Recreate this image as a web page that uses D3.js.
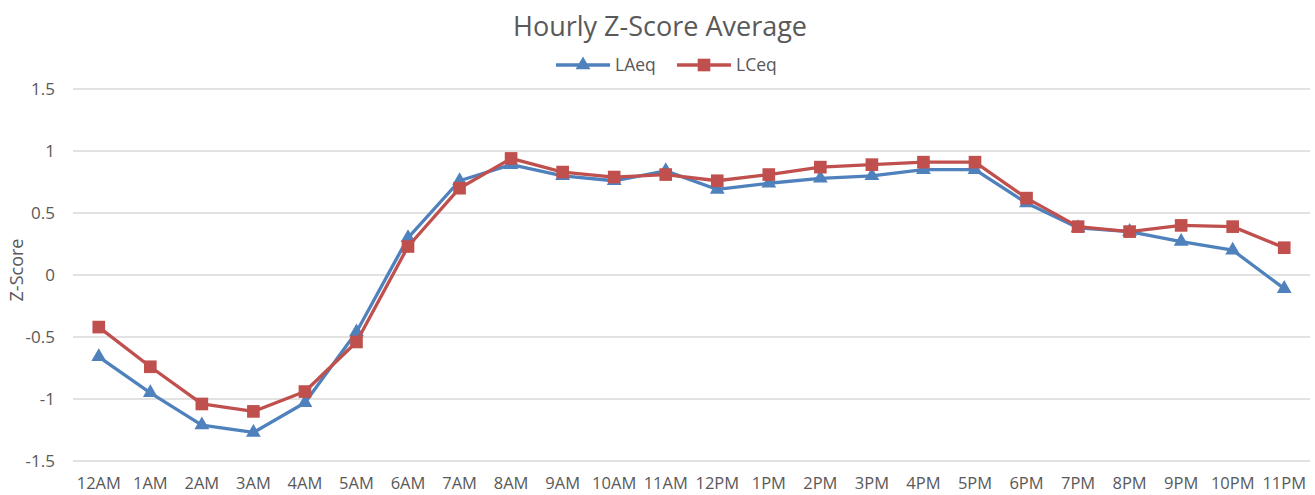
<!DOCTYPE html>
<html>
<head>
<meta charset="utf-8">
<script src="https://cdn.jsdelivr.net/npm/d3@7"></script>
<style>
  body { margin: 0; background: #fff; }
  svg text { font-family: "Open Sans", sans-serif; fill: #595959; }
</style>
</head>
<body>
<svg id="chart" width="1315" height="495"></svg>
<script>
// hours on the x axis
const hours = ["12AM", "1AM", "2AM", "3AM", "4AM", "5AM", "6AM", "7AM", "8AM", "9AM", "10AM", "11AM",
  "12PM", "1PM", "2PM", "3PM", "4PM", "5PM", "6PM", "7PM", "8PM", "9PM", "10PM", "11PM"];

// z-score averages per hour
const laeq = [-0.66, -0.95, -1.21, -1.27, -1.03, -0.46, 0.30, 0.76, 0.89, 0.80, 0.76, 0.84,
  0.69, 0.74, 0.78, 0.80, 0.85, 0.85, 0.58, 0.38, 0.35, 0.27, 0.20, -0.11];
const lceq = [-0.42, -0.74, -1.04, -1.10, -0.94, -0.54, 0.23, 0.70, 0.94, 0.83, 0.79, 0.81,
  0.76, 0.81, 0.87, 0.89, 0.91, 0.91, 0.62, 0.39, 0.35, 0.40, 0.39, 0.22];

const yTicks = [-1.5, -1, -0.5, 0, 0.5, 1, 1.5];

const seriesList = [
  { name: "LAeq", values: laeq, color: "#4F81BD", marker: d3.symbolTriangle, size: 95 },
  { name: "LCeq", values: lceq, color: "#C0504D", marker: d3.symbolSquare, size: 160 }
];

// plot box
const margin = { left: 73, right: 5, top: 89, bottom: 34 };
const width = 1315, height = 495;

const svg = d3.select("#chart");

const x = d3.scaleBand()
  .domain(hours)
  .range([margin.left, width - margin.right]);

const y = d3.scaleLinear()
  .domain([-1.5, 1.5])
  .range([height - margin.bottom, margin.top]);

// gridlines
svg.append("g")
  .selectAll("line")
  .data(yTicks)
  .join("line")
  .attr("x1", margin.left)
  .attr("x2", width - margin.right)
  .attr("y1", d => y(d))
  .attr("y2", d => y(d))
  .attr("stroke", "#d9d9d9")
  .attr("stroke-width", 1.3);

// y axis labels
const yAxis = svg.append("g")
  .attr("transform", `translate(${margin.left - 18},0)`)
  .call(d3.axisLeft(y).tickValues(yTicks).tickSize(0).tickPadding(0).tickFormat(d => d));
yAxis.select(".domain").remove();
yAxis.selectAll("text")
  .style("font-size", "17px")
  .style("font-family", "Open Sans")
  .attr("fill", "#595959");

// x axis labels
const xAxis = svg.append("g")
  .attr("transform", `translate(0,${height - margin.bottom})`)
  .call(d3.axisBottom(x).tickSize(0).tickPadding(16));
xAxis.select(".domain").remove();
xAxis.selectAll("text")
  .style("font-size", "16.5px")
  .style("font-family", "Open Sans")
  .attr("fill", "#595959");

// axis title
svg.append("text")
  .attr("transform", `translate(23,270) rotate(-90)`)
  .attr("text-anchor", "middle")
  .style("font-size", "18px")
  .text("Z-Score");

// chart title
svg.append("text")
  .attr("x", 660)
  .attr("y", 36)
  .attr("text-anchor", "middle")
  .style("font-size", "27px")
  .text("Hourly Z-Score Average");

// lines and markers
const line = d3.line()
  .x((d, i) => x(hours[i]) + x.bandwidth() / 2)
  .y(d => y(d));

seriesList.forEach(s => {
  const g = svg.append("g");
  g.append("path")
    .attr("d", line(s.values))
    .attr("fill", "none")
    .attr("stroke", s.color)
    .attr("stroke-width", 3.3)
    .attr("stroke-linejoin", "round");

  g.selectAll("path.marker")
    .data(s.values)
    .join("path")
    .classed("marker", true)
    .attr("d", d3.symbol().type(s.marker).size(s.size))
    .attr("transform", (d, i) => `translate(${x(hours[i]) + x.bandwidth() / 2},${y(d)})`)
    .attr("fill", s.color);
});

// legend
const legendX = [556, 677];
seriesList.forEach((s, i) => {
  const lg = svg.append("g").attr("transform", `translate(${legendX[i]},65)`);
  lg.append("line")
    .attr("x1", 0).attr("x2", 54)
    .attr("stroke", s.color)
    .attr("stroke-width", 3.3);
  lg.append("path")
    .attr("d", d3.symbol().type(s.marker).size(s.size)())
    .attr("transform", "translate(27,0)")
    .attr("fill", s.color);
  lg.append("text")
    .attr("x", 59)
    .attr("y", 6)
    .style("font-size", "17.5px")
    .text(s.name);
});
</script>
</body>
</html>
